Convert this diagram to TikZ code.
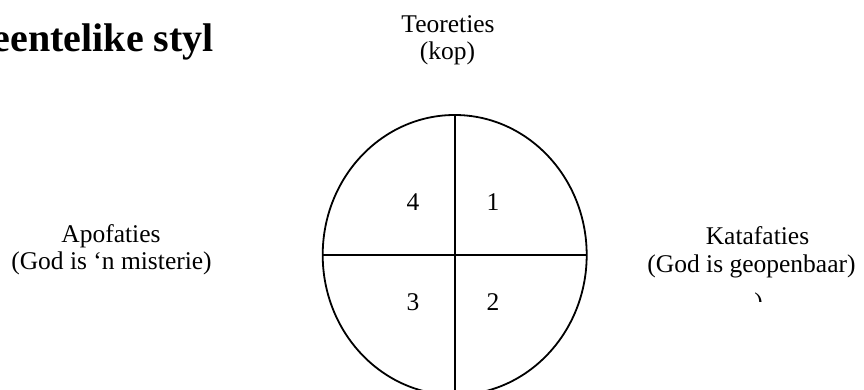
\documentclass[tikz,border=0pt]{standalone}
\usepackage{fontspec}
\setmainfont{Liberation Serif}
\begin{document}
\begin{tikzpicture}[x=1pt,y=1pt,
  lbl/.style={font=\fontsize{25.5}{28}\selectfont, align=center, inner sep=0pt},
  num/.style={font=\fontsize{25.5}{28}\selectfont, inner sep=0pt},
  ttl/.style={font=\fontsize{40}{44}\selectfont\bfseries, inner sep=0pt},
  edge/.style={line width=1.8pt}]
\useasboundingbox (0,0) rectangle (864,390);
\clip (0,0) rectangle (864,390);
% title
\node[ttl, anchor=base east] (title) at (214,338.3) {eentelike styl};
% circle
\coordinate (c) at (454.7,135);
\draw[edge] (c) ellipse [x radius=132, y radius=140];
\coordinate (top) at (454.7,275);
\coordinate (bot) at (454.7,-5);
\coordinate (lft) at (322.7,135);
\coordinate (rgt) at (586.7,135);
\draw[edge] (top) -- (bot);
\draw[edge] (lft) -- (rgt);
% quadrant numbers
\node[num] (q4) at (413,188) {4};
\node[num] (q1) at (493,188) {1};
\node[num] (q3) at (413,88) {3};
\node[num] (q2) at (493,88) {2};
% labels
\node[lbl, anchor=base] (teo) at (448,357.7) {Teoreties};
\node[lbl, anchor=base] (kop) at (447.5,330.7) {(kop)};
\node[lbl, anchor=base] (apo) at (111,147.5) {Apofaties};
\node[lbl, anchor=base] (apo2) at (111.5,120.5) {(God is ‘n misterie)};
\node[lbl, anchor=base] (kat) at (757.5,145) {Katafaties};
\node[lbl, anchor=base] (kat2) at (751.5,117.5) {(God is geopenbaar)};
\begin{scope}
\clip (700,88) rectangle (800,120);
\node[lbl, anchor=base] (kat3) at (758.5,79) {)};
\end{scope}
\end{tikzpicture}
\end{document}
